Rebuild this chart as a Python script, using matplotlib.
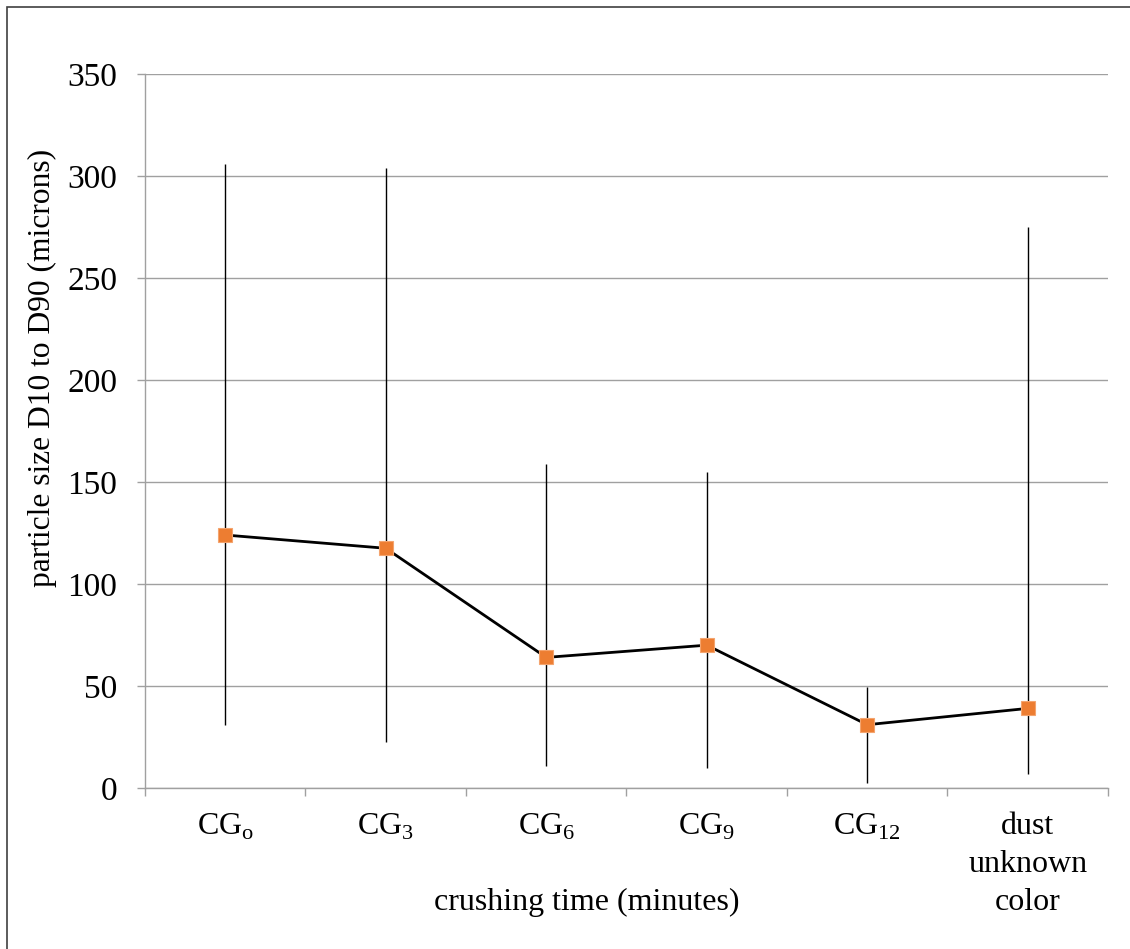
import matplotlib.pyplot as plt
from matplotlib.patches import Rectangle

plt.rcParams['font.family'] = 'Liberation Serif'
plt.rcParams['mathtext.fontset'] = 'custom'
plt.rcParams['mathtext.rm'] = 'Liberation Serif'

# data
labels = [r'CG$_\mathrm{o}$', r'CG$_{3}$', r'CG$_{6}$', r'CG$_{9}$', r'CG$_{12}$',
          'dust\nunknown\ncolor']
mean = [124, 117.5, 64, 70, 31, 39]
low = [31, 22.5, 11, 10, 2.5, 7]
high = [306, 304, 159, 155, 49.5, 275]

fig = plt.figure(figsize=(11.3, 9.49), dpi=100)
fig.patches.append(Rectangle((0.006, -0.1), 1.1, 1.093, transform=fig.transFigure,
                             fill=False, edgecolor='#404040', linewidth=1.2))
ax = fig.add_axes([0.1283, 0.1697, 0.8522, 0.7523])

x = list(range(len(labels)))
ax.vlines(x, low, high, color='black', linewidth=1, zorder=2)
ax.plot(x, mean, color='black', linewidth=2, marker='s', markersize=10,
        markerfacecolor='#ED7D31', markeredgecolor='#F4A46E', markeredgewidth=0.8, zorder=3)

ax.set_xlim(-0.5, len(labels) - 0.5)
ax.set_ylim(0, 350)
ax.set_yticks(range(0, 351, 50))
ax.grid(axis='y', color='#A0A0A0', linewidth=1)
ax.set_axisbelow(True)

ax.set_xticks([i + 0.5 for i in range(-1, len(labels))])
ax.set_xticklabels([])
ax.set_xticks(x, minor=True)
ax.set_xticklabels(labels, minor=True, fontsize=23, va='top', linespacing=1.42)
ax.tick_params(axis='x', which='major', length=6, color='#A0A0A0', width=1)
ax.tick_params(axis='x', which='minor', length=0, pad=17)
ax.tick_params(axis='y', length=6, color='#A0A0A0', width=1, labelsize=24, pad=14)

for s in ['top', 'right']:
    ax.spines[s].set_visible(False)
for s in ['left', 'bottom']:
    ax.spines[s].set_color('#A0A0A0')
    ax.spines[s].set_linewidth(1)

ax.set_xlabel('crushing time (minutes)', fontsize=23)
ax.xaxis.set_label_coords(0.459, -0.14)
ax.set_ylabel('particle size D10 to D90 (microns)', fontsize=22.7)
ax.yaxis.set_label_coords(-0.091, 0.588)

fig.savefig('out.png', dpi=100)
